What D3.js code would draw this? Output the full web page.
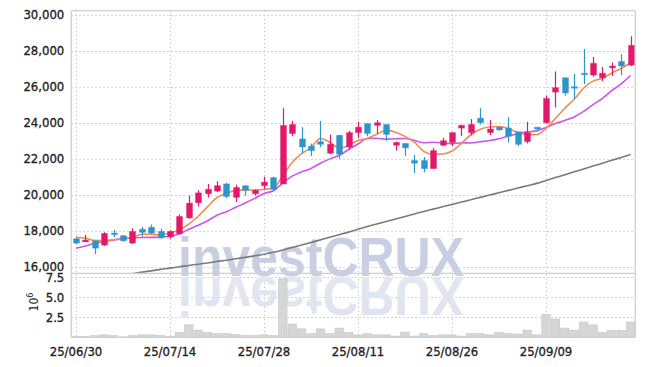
<!DOCTYPE html>
<html>
<head>
<meta charset="utf-8">
<script src="https://cdn.jsdelivr.net/npm/d3@7"></script>
<style>
  html, body { margin: 0; padding: 0; background: #fff; }
  svg { display: block; }
  .tick text { font-family: "DejaVu Sans Condensed", "DejaVu Sans", sans-serif; font-size: 13px; fill: #222; stroke: #222; stroke-width: 0.3px; }
</style>
</head>
<body>
<svg id="chart" width="645" height="367"></svg>
<script>
const dates = ["25/06/30","25/07/01","25/07/02","25/07/03","25/07/04","25/07/07","25/07/08","25/07/09","25/07/10","25/07/11",
"25/07/14","25/07/15","25/07/16","25/07/17","25/07/18","25/07/21","25/07/22","25/07/23","25/07/24","25/07/25",
"25/07/28","25/07/29","25/07/30","25/07/31","25/08/01","25/08/04","25/08/05","25/08/06","25/08/07","25/08/08",
"25/08/11","25/08/12","25/08/13","25/08/14","25/08/18","25/08/19","25/08/20","25/08/21","25/08/22","25/08/25",
"25/08/26","25/08/27","25/08/28","25/08/29","25/09/01","25/09/02","25/09/03","25/09/04","25/09/05","25/09/08",
"25/09/09","25/09/10","25/09/11","25/09/12","25/09/15","25/09/16","25/09/17","25/09/18","25/09/19","25/09/22"];

const opens = [17550,17380,17440,17200,17870,17720,17310,18080,18190,17960,
17650,17830,18710,19550,20050,20200,20600,19850,20500,20050,
20500,20950,20600,23400,23100,22700,22950,22300,23300,22650,
23450,23950,23850,23900,22750,22850,21900,21900,21450,22750,
22900,23700,23450,24250,23450,23750,23700,23500,22950,23750,
24000,25700,26500,26000,26750,26650,26500,27050,27400,27200];
const highs = [17630,17760,17440,17910,18040,17760,18130,18220,18340,18110,
18020,18900,19960,20250,20600,20750,20650,20550,20500,20300,
21000,21000,24800,24100,23750,22850,24100,23350,23300,23550,
24050,23950,24150,23900,22950,22850,22200,22100,22600,23150,
23450,23900,24200,24800,24150,23750,24300,23500,24050,23750,
25500,26850,26500,26700,28100,27650,27100,27350,27800,28800];
const lows = [17250,17380,16710,17160,17630,17380,17270,17680,17810,17550,
17550,17790,18670,19350,19850,20150,19800,19600,19950,19950,
20300,20250,20600,23250,22300,22150,22650,22250,22000,22500,
23150,23250,23400,23000,22450,22150,21200,21250,21450,22700,
22700,23250,23300,23900,23300,23550,22900,22700,22850,23500,
23950,24850,25500,25350,26150,26550,26300,26600,26650,27150];
const closes = [17310,17480,17030,17850,17830,17440,17960,17910,17870,17650,
17960,18790,19530,20100,20300,20500,19900,20400,20250,20250,
20700,20300,23850,23900,22650,22450,22800,22800,22250,23450,
23750,23400,24000,23350,22900,22600,21750,21450,22450,23000,
23450,23850,23900,24000,23650,23600,23250,22800,23450,23650,
25350,25950,25650,25950,26700,27300,26750,27150,27150,28300];

// volume in millions of shares
const volumes = [0.1,0.1,0.2,0.3,0.2,0.05,0.2,0.3,0.3,0.2,
0.1,0.6,1.55,0.9,0.6,0.45,0.45,0.35,0.2,0.2,
0.3,0.2,7.3,1.65,1.05,0.45,1.05,0.45,1.15,0.6,
0.3,0.45,0.3,0.3,0.15,0.65,0.15,0.45,0.2,0.3,
0.3,0.15,0.45,0.45,0.3,0.6,0.45,0.4,0.9,0.3,
2.85,2.3,1.15,0.9,1.9,1.55,0.6,0.85,0.85,1.9];

// moving averages
const maShort = [17640,17590,17460,17450,17500,17525,17620,17800,17800,17765,
17870,18035,18360,18805,19340,19845,20070,20240,20270,20250,
20295,20375,21065,21790,22280,22625,23120,22915,22585,22740,
23010,23125,23360,23585,23475,23240,22915,22410,22240,22265,
22430,22850,23330,23640,23760,23790,23670,23450,23335,23335,
23690,24235,24805,25300,25915,26310,26465,26765,27010,27330];
const maMid = [17030,17150,17300,17400,17490,17560,17600,17620,17630,17630,
17700,17830,18080,18300,18550,18860,19050,19300,19535,19795,
20070,20220,20650,21030,21265,21460,21745,21990,22190,22510,
22815,23125,23140,23085,23110,23125,23020,22885,22910,22870,
22835,22885,22870,22940,23010,23110,23260,23390,23490,23550,
23740,23950,24125,24320,24625,25000,25350,25785,26155,26620];
const maLong = [null,null,null,null,null,null,15600,15700,15770,15850,
15920,16000,16070,16140,16210,16290,16360,16440,16520,16600,
16690,16800,16930,17070,17210,17350,17490,17640,17780,17920,
18080,18230,18370,18510,18650,18790,18930,19070,19200,19330,
19460,19590,19720,19850,19980,20110,20240,20370,20500,20630,
20790,20950,21110,21270,21430,21590,21750,21910,22070,22230];

const priceTicks = [16000,18000,20000,22000,24000,26000,28000,30000];
const volTicks = [2.5,5.0,7.5];
const dateTicks = ["25/06/30","25/07/14","25/07/28","25/08/11","25/08/26","25/09/09"];

const upColor = "#e2186b", downColor = "#2c96c8";
const L = 71.3, R = 635.3, T = 10.7, MID = 273.3, B = 337.3;

const svg = d3.select("#chart");
const x = d3.scaleBand().domain(dates).range([L, R]).padding(0);
const cx = d => x(d) + x.bandwidth() / 2;
const y = d3.scaleLinear().domain([16000, 30000]).range([266.7, 14.7]);
const yv = d3.scaleLinear().domain([0, 7.5]).range([B, 277.3]);

const defs = svg.append("defs");
defs.append("clipPath").attr("id", "cp").append("rect").attr("x", L).attr("y", T).attr("width", R - L).attr("height", MID - T);
defs.append("clipPath").attr("id", "cv").append("rect").attr("x", L).attr("y", MID).attr("width", R - L).attr("height", B - MID);
const grad = defs.append("linearGradient").attr("id", "fade").attr("x1", 0).attr("y1", 0).attr("x2", 0).attr("y2", 1);
grad.append("stop").attr("offset", "0%").attr("stop-color", "#dde2ee");
grad.append("stop").attr("offset", "100%").attr("stop-color", "#e4e8f1");

// grid
const grid = svg.append("g").attr("stroke", "#c3c7d8").attr("stroke-width", 1).attr("stroke-dasharray", "1.5,2.5");
grid.selectAll("line.h").data(priceTicks).join("line").attr("class", "h")
  .attr("x1", L).attr("x2", R).attr("y1", d => Math.round(y(d)) + 0.5).attr("y2", d => Math.round(y(d)) + 0.5);
grid.selectAll("line.v").data(volTicks).join("line").attr("class", "v")
  .attr("x1", L).attr("x2", R).attr("y1", d => Math.round(yv(d)) + 0.5).attr("y2", d => Math.round(yv(d)) + 0.5);
grid.selectAll("line.d").data(dateTicks).join("line").attr("class", "d")
  .attr("x1", d => Math.round(cx(d)) + 0.5).attr("x2", d => Math.round(cx(d)) + 0.5).attr("y1", T).attr("y2", B);

// watermark
const wm = svg.append("g").attr("font-family", "Liberation Sans, Arial, sans-serif").attr("font-weight", "bold");
wm.append("text").attr("x", 178).attr("y", 276).attr("font-size", 56).attr("textLength", 286).attr("lengthAdjust", "spacingAndGlyphs")
  .attr("fill", "#c8cfe3").text("investCRUX");
wm.append("text").attr("transform", "translate(0,553) scale(1,-1)").attr("x", 178).attr("y", 276).attr("font-size", 56)
  .attr("textLength", 286).attr("lengthAdjust", "spacingAndGlyphs").attr("fill", "url(#fade)").text("investCRUX");

// volume bars
svg.append("g").attr("clip-path", "url(#cv)").selectAll("rect").data(dates).join("rect")
  .attr("x", d => x(d) + 0.5).attr("width", x.bandwidth() - 1)
  .attr("y", (d, i) => yv(volumes[i])).attr("height", (d, i) => B - yv(volumes[i]))
  .attr("fill", "#d6d6d6").attr("stroke", "#c2c2c2").attr("stroke-width", 0.6);

// MA lines
const gl = svg.append("g").attr("clip-path", "url(#cp)").attr("fill", "none");
const lineOf = arr => d3.line().defined((d, i) => arr[i] != null).x(d => cx(d)).y((d, i) => y(arr[i])).curve(d3.curveMonotoneX)(dates);
gl.append("path").attr("d", lineOf(maLong)).attr("stroke", "#7a7a7a").attr("stroke-width", 1.6);
gl.append("path").attr("d", lineOf(maMid)).attr("stroke", "#cc55ee").attr("stroke-width", 1.6);
gl.append("path").attr("d", lineOf(maShort)).attr("stroke", "#f08c50").attr("stroke-width", 1.6);

// candles
const gc = svg.append("g").attr("clip-path", "url(#cp)");
const col = i => closes[i] >= opens[i] ? upColor : downColor;
gc.selectAll("line").data(dates).join("line")
  .attr("x1", d => Math.round(cx(d)) + 0.5).attr("x2", d => Math.round(cx(d)) + 0.5)
  .attr("y1", (d, i) => y(highs[i])).attr("y2", (d, i) => y(lows[i]))
  .attr("stroke", (d, i) => col(i)).attr("stroke-width", 1.2);
gc.selectAll("rect").data(dates).join("rect")
  .attr("x", d => Math.round(cx(d)) - 2.5).attr("width", 6)
  .attr("y", (d, i) => y(Math.max(opens[i], closes[i])))
  .attr("height", (d, i) => Math.max(1.5, Math.abs(y(opens[i]) - y(closes[i]))))
  .attr("fill", (d, i) => col(i)).attr("stroke", (d, i) => col(i)).attr("stroke-opacity", 0.35).attr("stroke-width", 1);

// frame
const fr = svg.append("g").attr("stroke", "#d0d0d0").attr("stroke-width", 1.3).attr("fill", "none");
fr.append("line").attr("x1", L).attr("x2", R).attr("y1", T).attr("y2", T);
fr.append("line").attr("x1", L).attr("x2", L).attr("y1", T).attr("y2", B);
fr.append("line").attr("x1", R).attr("x2", R).attr("y1", T).attr("y2", B);
fr.append("line").attr("x1", L).attr("x2", R).attr("y1", MID).attr("y2", MID);
fr.append("line").attr("x1", L).attr("x2", R).attr("y1", B).attr("y2", B);

// axes
const ay = svg.append("g").attr("transform", `translate(${L},0)`)
  .call(d3.axisLeft(y).tickValues(priceTicks).tickFormat(d3.format(",")).tickSize(0).tickPadding(7));
ay.select(".domain").remove();
const av = svg.append("g").attr("transform", `translate(${L},0)`)
  .call(d3.axisLeft(yv).tickValues(volTicks).tickFormat(d3.format(".1f")).tickSize(0).tickPadding(7));
av.select(".domain").remove();
const ax = svg.append("g").attr("transform", `translate(0,${B})`)
  .call(d3.axisBottom(x).tickValues(dateTicks).tickSize(0).tickPadding(9));
ax.select(".domain").remove();

// volume unit label
const ul = svg.append("text").attr("transform", "translate(38,302) rotate(-90)")
  .attr("text-anchor", "middle").attr("font-family", "DejaVu Sans Condensed, DejaVu Sans, sans-serif")
  .attr("font-size", 12).attr("fill", "#2a2a2a");
ul.append("tspan").text("10");
ul.append("tspan").attr("dy", -5).attr("font-size", 9).text("6");
</script>
</body>
</html>
